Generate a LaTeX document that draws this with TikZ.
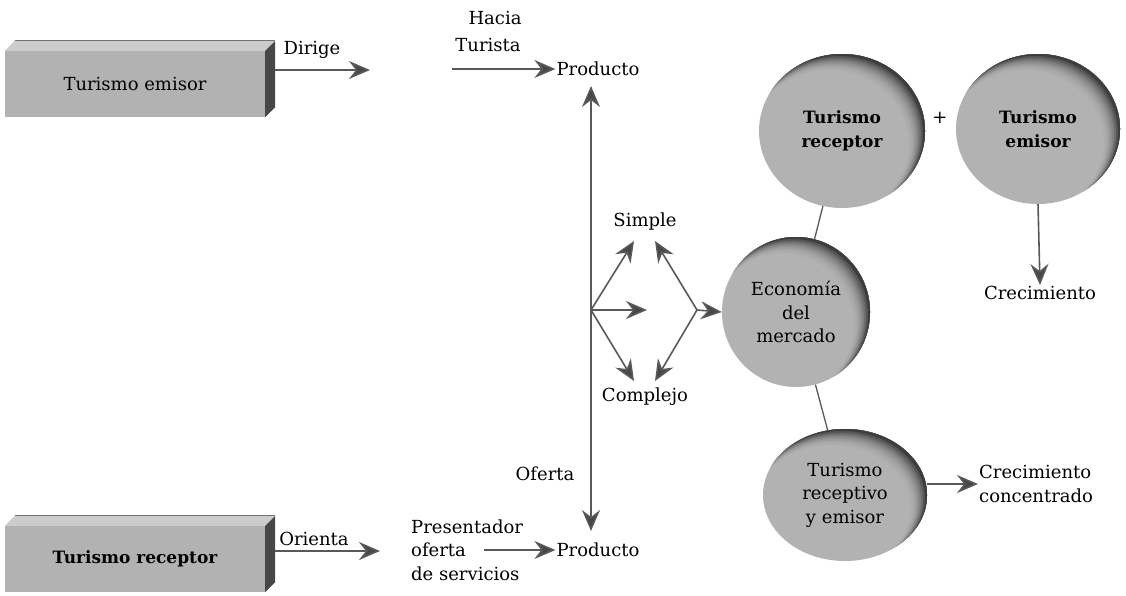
\documentclass[tikz,border=0pt]{standalone}
\usepackage{fontspec}
\setmainfont{DejaVu Serif}
\usetikzlibrary{arrows.meta,shapes.geometric,calc}
% grey oval with a soft dark rim towards the upper right:
% everything outside a copy shifted to the lower left, clipped to the oval,
% darker as the crescent thins
\newcommand\blobfill[4]{%
  \fill[black!30] (#1,#2) ellipse [x radius=#3, y radius=#4];
  \begin{scope}
    \clip (#1,#2) ellipse [x radius=#3, y radius=#4];
    \foreach \k/\c in {9/32,8/34,7/38,6/43,5/49,4/57,3/66,2/76}
      \fill[black!\c, even odd rule] ({#1-#3-20},{#2-#4-20}) rectangle ({#1+#3+20},{#2+#4+20})
        ({#1-1.5*\k},{#2+1.5*\k}) ellipse [x radius={#3-0.5*\k+2}, y radius={#4-0.5*\k+2}];
  \end{scope}}
\begin{document}
\begin{tikzpicture}[x=1pt,y=-1pt,
  every node/.style={font=\fontsize{18}{23.5}\selectfont, text=black},
  lbl/.style={inner sep=1pt, align=center},
  conn/.style={draw=black!65, line width=1.6pt},
  arr/.style={conn, -{Stealth[length=21pt,width=18pt,inset=7pt,fill=black!72]}},
  darr/.style={conn, {Stealth[length=21pt,width=18pt,inset=7pt,fill=black!72]}-{Stealth[length=21pt,width=18pt,inset=7pt,fill=black!72]}},
  boxface/.style={fill=black!30, minimum width=260pt, minimum height=66pt, inner sep=0pt},
  blob/.style={ellipse, inner sep=0pt, align=center},
  bold/.style={font=\fontsize{17}{23.5}\selectfont\bfseries},
]
\useasboundingbox (0,0) rectangle (1126,595);

% ---- upper box: Turismo emisor ----
\node[boxface] (emi) at (135,84) {Turismo emisor};
\fill[black!20] (emi.north west) -- ++(10,-10) -- ($(emi.north east)+(10,-10)$) -- (emi.north east) -- cycle;
\draw[black!55, line width=1pt] ($(emi.north west)+(10,-10)$) -- ($(emi.north east)+(10,-10)$);
\fill[black!72] (emi.north east) -- ++(10,-10) -- ($(emi.south east)+(10,-10)$) -- (emi.south east) -- cycle;

\node[lbl] (dirige) at (312,50) {Dirige};
\coordinate (dirE) at (370,70);
\draw[arr] ([xshift=10pt,yshift=14pt]emi.east) -- (dirE);

\node[lbl] (hacia) at (495,18) {Hacia};
\node[lbl] (turista) at (488,45) {Turista};
\node[lbl] (prod1) at (598,69) {Producto};
\coordinate (hs) at (452,69);
\draw[arr] (hs) -- (prod1.west);

% ---- lower box: Turismo receptor ----
\node[boxface, bold] (rec) at (135,559) {Turismo receptor};
\fill[black!20] (rec.north west) -- ++(10,-10) -- ($(rec.north east)+(10,-10)$) -- (rec.north east) -- cycle;
\draw[black!55, line width=1pt] ($(rec.north west)+(10,-10)$) -- ($(rec.north east)+(10,-10)$);
\fill[black!72] (rec.north east) -- ++(10,-10) -- ($(rec.south east)+(10,-10)$) -- (rec.south east) -- cycle;

\node[lbl] (orienta) at (314,539) {Orienta};
\coordinate (oriE) at (380,551);
\draw[arr] ([xshift=10pt,yshift=8pt]rec.east) -- (oriE);

\node[lbl, align=left, anchor=west] (pres) at (410,550) {Presentador\\oferta\\de servicios};
\node[lbl] (prod2) at (598,550) {Producto};
\coordinate (ps) at (484,550);
\draw[arr] (ps) -- (prod2.west);
\node[lbl] (oferta) at (545,474) {Oferta};

% ---- vertical axis ----
\coordinate (vt) at (591,86);
\coordinate (vb) at (591,531);
\draw[darr] (vt) -- (vb);

% ---- Simple / Complejo branching ----
\coordinate (bl) at (591,310);
\coordinate (br) at (697,310);
\coordinate (s1) at (634,241);
\coordinate (s2) at (655,241);
\coordinate (m1) at (647,310);
\coordinate (c1) at (634,381);
\coordinate (c2) at (655,381);
\node[lbl] (simple) at (645,222) {Simple};
\node[lbl] (complejo) at (645,397) {Complejo};
\draw[arr] (bl) -- (s1);
\draw[arr] (bl) -- (m1);
\draw[arr] (bl) -- (c1);
\draw[arr] (br) -- (s2);
\draw[arr] (br) -- (c2);

% ---- ovals ----
\blobfill{842}{131}{83}{77}
\blobfill{1038}{129}{82}{75}
\blobfill{796}{312}{74}{75}
\blobfill{845}{495}{82}{66}
\node[blob, bold, minimum width=166pt, minimum height=154pt] (tr) at (842,131) {Turismo\\receptor};
\node[blob, bold, minimum width=164pt, minimum height=150pt] (te) at (1038,129) {Turismo\\emisor};
\node[blob, minimum width=148pt, minimum height=150pt] (eco) at (796,312) {Econom\'{\i}a\\del\\mercado};
\node[blob, minimum width=164pt, minimum height=132pt] (tre) at (845,495) {Turismo\\receptivo\\y emisor};
\node[lbl] (plus) at (940,118) {+};

\draw[arr] (br) -- (eco.west);
\draw[conn, line width=1.3pt] (tr) -- (eco);
\draw[conn, line width=1.3pt] (eco) -- (tre);

\node[lbl] (crec) at (1040,293) {Crecimiento};
\draw[arr] (te.south) -- (crec.north);

\node[lbl, align=left, anchor=west] (crecc) at (978,484) {Crecimiento\\concentrado};
\draw[arr] (tre.east |- crecc.west) -- (crecc.west);
\end{tikzpicture}
\end{document}
